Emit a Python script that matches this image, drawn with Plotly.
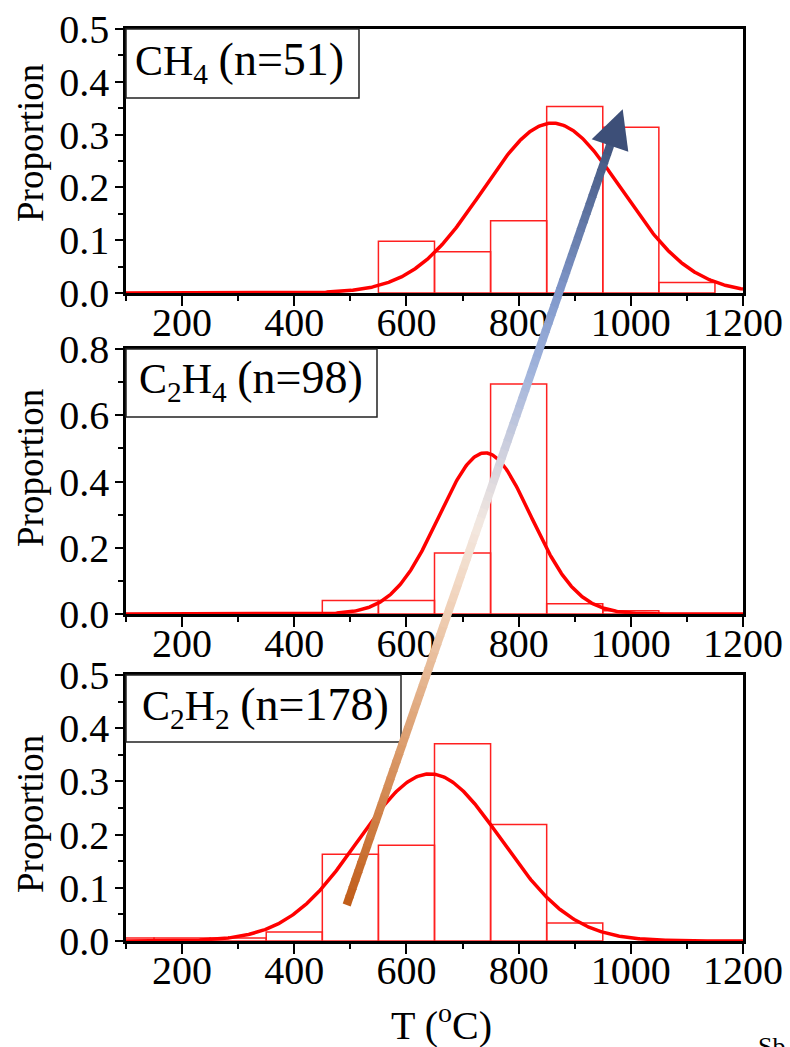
import numpy as np
import plotly.graph_objects as go

# ---------------- data ----------------
bin_width = 100
ch4_bins = [600, 700, 800, 900, 1000, 1100]
ch4_prop = [0.098, 0.078, 0.137, 0.353, 0.314, 0.020]
ch4_mean, ch4_sd = 860, 124

c2h4_bins = [500, 600, 700, 800, 900, 1000]
c2h4_prop = [0.041, 0.041, 0.184, 0.694, 0.031, 0.010]
c2h4_mean, c2h4_sd = 740, 82

c2h2_bins = [100, 200, 300, 400, 500, 600, 700, 800, 900]
c2h2_prop = [0.0056, 0.0056, 0.0056, 0.017, 0.163, 0.180, 0.371, 0.219, 0.034]
c2h2_mean, c2h2_sd = 642, 127

species = ["CH<sub>4</sub>", "C<sub>2</sub>H<sub>4</sub>", "C<sub>2</sub>H<sub>2</sub>"]
counts = ["(n=51)", "(n=98)", "(n=178)"]
x_ticks = [200, 400, 600, 800, 1000, 1200]
y_max = [0.5, 0.8, 0.5]
y_dtick = [0.1, 0.2, 0.1]

# ---------------- layout helpers ----------------
W, H = 790, 1047
FONT = "Liberation Serif"


def fx(x):
    return x / W


def fy(y):
    return 1 - y / H


panel_px = [(29, 293), (349, 614), (675, 941)]  # top, bottom in pixels
x_dom = [fx(126), fx(743)]

fig = go.Figure()

series = [
    (ch4_bins, ch4_prop, ch4_mean, ch4_sd),
    (c2h4_bins, c2h4_prop, c2h4_mean, c2h4_sd),
    (c2h2_bins, c2h2_prop, c2h2_mean, c2h2_sd),
]

xs = np.linspace(100, 1200, 551)
for i, (bins, prop, mu, sd) in enumerate(series):
    ax = "" if i == 0 else str(i + 1)
    fig.add_trace(go.Bar(
        x=bins, y=prop, width=bin_width,
        marker=dict(color="rgba(0,0,0,0)", line=dict(color="#ff2020", width=1.5)),
        xaxis="x" + ax, yaxis="y" + ax, showlegend=False, hoverinfo="skip"))
    amp = bin_width / (sd * np.sqrt(2 * np.pi))
    fit = amp * np.exp(-(xs - mu) ** 2 / (2 * sd ** 2))
    fig.add_trace(go.Scatter(
        x=xs, y=fit, mode="lines", line=dict(color="#ff0000", width=3.5),
        xaxis="x" + ax, yaxis="y" + ax, showlegend=False, hoverinfo="skip"))

layout = dict(
    template="none",
    width=W, height=H, margin=dict(l=0, r=0, t=0, b=0, pad=0, autoexpand=False),
    paper_bgcolor="white", plot_bgcolor="white", showlegend=False,
    font=dict(family=FONT, size=40, color="black"),
)

for i in range(3):
    ax = "" if i == 0 else str(i + 1)
    top, bot = panel_px[i]
    layout["xaxis" + ax] = dict(
        domain=x_dom, anchor="y" + ax, range=[100, 1200], automargin=False,
        tickvals=x_ticks, ticks="outside", ticklen=10, tickwidth=2, tickcolor="black",
        ticklabelstandoff=-18,
        showline=True, mirror=True, linecolor="black", linewidth=2.5,
        showgrid=False, zeroline=False,
        tickfont=dict(family=FONT, size=40, color="black"),
        minor=dict(tickvals=[100, 300, 500, 700, 900, 1100], ticks="outside", ticklen=5,
                   tickwidth=2, tickcolor="black", showgrid=False),
    )
    layout["yaxis" + ax] = dict(
        domain=[fy(bot), fy(top)], anchor="x" + ax, range=[0, y_max[i]], automargin=False,
        dtick=y_dtick[i], tick0=0, tickformat=".1f",
        ticks="outside", ticklen=8, tickwidth=2, tickcolor="black",
        ticklabelstandoff=-2,
        showline=True, mirror=True, linecolor="black", linewidth=2.5,
        showgrid=False, zeroline=False,
        tickfont=dict(family=FONT, size=40, color="black"),
        minor=dict(dtick=y_dtick[i] / 2, tick0=0, ticks="outside", ticklen=5,
                   tickwidth=2, tickcolor="black", showgrid=False),
    )

fig.update_layout(**layout)

shapes = []
annotations = []

# label boxes
boxes = [(126, 359, 29, 98), (126, 377, 349, 417), (126, 401, 675, 742)]
label_pos = [(133, 62), (137, 380), (140, 707)]
for (x0, x1, y0, y1), sp, cnt, (lx, ly) in zip(boxes, species, counts, label_pos):
    shapes.append(dict(type="rect", xref="paper", yref="paper",
                       x0=fx(x0), x1=fx(x1), y0=fy(y1), y1=fy(y0),
                       fillcolor="white", line=dict(color="#222222", width=1.5), layer="above"))
    lab = sp + ' <span style="font-size:46px">' + cnt + '</span>'
    annotations.append(dict(text=lab, xref="paper", yref="paper", x=fx(lx), y=fy(ly),
                            xanchor="left", yanchor="middle", showarrow=False,
                            font=dict(family=FONT, size=42, color="black")))

# y axis titles
prop_y = [143, 468, 814]
for yy in prop_y:
    annotations.append(dict(text="Proportion", xref="paper", yref="paper", x=fx(30), y=fy(yy),
                            xanchor="center", yanchor="middle", textangle=-90, showarrow=False,
                            font=dict(family=FONT, size=37, color="black")))

# x title
annotations.append(dict(text="T (<sup>o</sup>C)", xref="paper", yref="paper", x=fx(441), y=fy(1022),
                        xanchor="center", yanchor="middle", showarrow=False,
                        font=dict(family=FONT, size=40, color="black")))
# cropped watermark text
annotations.append(dict(text="Sb", xref="paper", yref="paper", x=fx(756), y=fy(1030),
                        xanchor="left", yanchor="top", showarrow=False,
                        font=dict(family=FONT, size=26, color="black")))

# gradient arrow
start = np.array([346.7, 905.0])
end = np.array([610.0, 145.5])
tip = np.array([622.7, 109.3])
c1 = np.array([591.7, 139.3])
c2 = np.array([628.3, 151.7])
stops = [(0.0, "#c05c18"), (0.22, "#dc9f70"), (0.40, "#f1d3bb"), (0.50, "#f3e8e0"),
         (0.58, "#d6d5de"), (0.70, "#a2b5dc"), (0.80, "#8299cc"), (1.0, "#42567f")]


def hex2rgb(h):
    return np.array([int(h[k:k + 2], 16) for k in (1, 3, 5)], dtype=float)


def color_at(t):
    for (t0, h0), (t1, h1) in zip(stops[:-1], stops[1:]):
        if t0 <= t <= t1:
            f = (t - t0) / (t1 - t0)
            c = hex2rgb(h0) * (1 - f) + hex2rgb(h1) * f
            return "rgb(%d,%d,%d)" % tuple(np.round(c))
    return stops[-1][1]


d = end - start
L = np.linalg.norm(d)
u = d / L
nrm = np.array([-u[1], u[0]])
half = 4.2
N = 90
for k in range(N):
    t0, t1 = k / N, (k + 1) / N
    p0 = start + d * t0 - u * (0.6 if k > 0 else 0)
    p1 = start + d * t1 + u * 0.6
    pts = [p0 + nrm * half, p1 + nrm * half, p1 - nrm * half, p0 - nrm * half]
    path = "M " + " L ".join("%.5f,%.5f" % (fx(p[0]), fy(p[1])) for p in pts) + " Z"
    shapes.append(dict(type="path", xref="paper", yref="paper", path=path,
                       fillcolor=color_at((t0 + t1) / 2), line=dict(width=0), layer="above"))
head = [tip, c1, c2]
shapes.append(dict(type="path", xref="paper", yref="paper",
                   path="M " + " L ".join("%.5f,%.5f" % (fx(p[0]), fy(p[1])) for p in head) + " Z",
                   fillcolor="#3d4f78", line=dict(width=0), layer="above"))

fig.update_layout(shapes=shapes, annotations=annotations)
fig.write_html("out.html", config={"displayModeBar": False},
               post_script="document.body.style.margin='0px';document.body.style.overflow='hidden';")
